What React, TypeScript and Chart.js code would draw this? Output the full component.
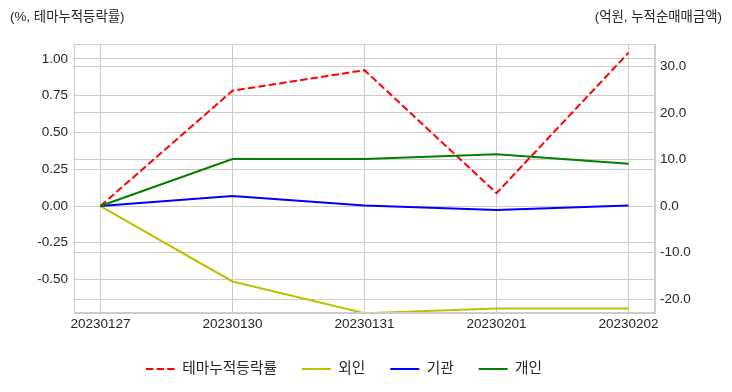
import React, { useEffect, useRef } from "react";
import { Chart, registerables } from "chart.js";

Chart.register(...registerables);

// ---- data ----
const dates = ["20230127", "20230130", "20230131", "20230201", "20230202"];
const themeReturn = [0, 0.784, 0.924, 0.088, 1.043]; // %, left axis
const foreign = [0, -16.2, -23.0, -22.0, -22.0]; // 억원, right axis
const institution = [0, 2.15, 0.1, -0.86, 0.1];
const individual = [0, 10.1, 10.1, 11.1, 9.1];
const leftTicks = [-0.5, -0.25, 0, 0.25, 0.5, 0.75, 1.0];
const rightTicks = [-20, -10, 0, 10, 20, 30];
const leftTitle = "(%, 테마누적등락률)";
const rightTitle = "(억원, 누적순매매금액)";

const FONT = "'Liberation Sans', 'Noto Sans CJK KR', Arial, sans-serif";
const TEXT = "#262626";
const GRID = "#cccccc";

const toPts = (arr: number[]) => arr.map((y, i) => ({ x: i, y }));

const framePlugin = {
  id: "frame",
  afterDraw(chart: any) {
    const { ctx, chartArea } = chart;
    ctx.save();
    ctx.strokeStyle = GRID;
    ctx.lineWidth = 1;
    ctx.strokeRect(
      Math.round(chartArea.left) + 0.5,
      Math.round(chartArea.top) + 0.5,
      Math.round(chartArea.right - chartArea.left) - 1,
      Math.round(chartArea.bottom - chartArea.top) - 1
    );
    ctx.restore();
  },
};

// the reference legend sits a little left of the canvas centre
const legendShiftPlugin = {
  id: "legendShift",
  afterLayout(chart: any) {
    const lg = chart.legend;
    if (lg) {
      lg.left -= 22;
      lg.right -= 22;
    }
  },
};

export default function App() {
  const ref = useRef<HTMLCanvasElement | null>(null);

  useEffect(() => {
    if (!ref.current) return;
    const common = {
      borderWidth: 2,
      pointRadius: 0,
      pointHoverRadius: 0,
      tension: 0,
      fill: false,
    };
    const chart = new Chart(ref.current, {
      type: "line",
      data: {
        datasets: [
          {
            ...common,
            label: "테마누적등락률",
            data: toPts(themeReturn),
            yAxisID: "y",
            borderColor: "#ff0000",
            backgroundColor: "#ff0000",
            borderDash: [7.4, 3.2],
            order: 4,
          },
          {
            ...common,
            label: "외인",
            data: toPts(foreign),
            yAxisID: "y2",
            borderColor: "#bfbf00",
            backgroundColor: "#bfbf00",
            order: 3,
          },
          {
            ...common,
            label: "기관",
            data: toPts(institution),
            yAxisID: "y2",
            borderColor: "#0000ff",
            backgroundColor: "#0000ff",
            order: 2,
          },
          {
            ...common,
            label: "개인",
            data: toPts(individual),
            yAxisID: "y2",
            borderColor: "#008000",
            backgroundColor: "#008000",
            order: 1,
          },
        ],
      },
      options: {
        animation: false,
        responsive: true,
        maintainAspectRatio: false,
        layout: { padding: { top: 44, left: 0, right: 0, bottom: 5.6 } },
        plugins: {
          legend: {
            position: "bottom",
            labels: {
              usePointStyle: true,
              pointStyle: "line",
              pointStyleWidth: 29,
              padding: 25,
              color: TEXT,
              font: { family: FONT, size: 14.7 },
              sort: (a: any, b: any) => a.datasetIndex - b.datasetIndex,
              generateLabels: (ch: any) => {
                const items = (Chart as any).defaults.plugins.legend.labels.generateLabels(ch);
                return items.map((it: any) => {
                  const ds = ch.data.datasets[it.datasetIndex];
                  return {
                    ...it,
                    strokeStyle: ds.borderColor,
                    fillStyle: ds.borderColor,
                    lineWidth: 2,
                    lineDash: ds.borderDash || [],
                    lineCap: "butt",
                  };
                });
              },
            },
          },
          tooltip: { enabled: false },
        },
        scales: {
          x: {
            type: "linear",
            min: -0.2,
            max: 4.2,
            afterBuildTicks: (axis: any) => {
              axis.ticks = dates.map((_, i) => ({ value: i }));
            },
            afterFit: (axis: any) => {
              axis.height = 23.35;
            },
            ticks: {
              callback: (v: any) => dates[Math.round(Number(v))] ?? "",
              color: TEXT,
              font: { family: FONT, size: 13.5 },
              padding: 3,
              maxRotation: 0,
              autoSkip: false,
            },
            grid: { color: GRID, drawTicks: false },
            border: { color: GRID },
          },
          y: {
            type: "linear",
            position: "left",
            min: -0.73,
            max: 1.102,
            afterBuildTicks: (axis: any) => {
              axis.ticks = leftTicks.map((v) => ({ value: v }));
            },
            afterFit: (axis: any) => {
              axis.width = 74;
            },
            ticks: {
              callback: (v: any) => Number(v).toFixed(2),
              color: TEXT,
              font: { family: FONT, size: 13.5 },
              padding: 6,
            },
            grid: { color: GRID, drawTicks: false },
            border: { color: GRID },
          },
          y2: {
            type: "linear",
            position: "right",
            min: -23.04,
            max: 34.79,
            afterBuildTicks: (axis: any) => {
              axis.ticks = rightTicks.map((v) => ({ value: v }));
            },
            afterFit: (axis: any) => {
              axis.width = 77;
            },
            ticks: {
              callback: (v: any) => Number(v).toFixed(1),
              color: TEXT,
              font: { family: FONT, size: 13.5 },
              padding: 5,
            },
            grid: { color: GRID, drawTicks: false, drawOnChartArea: true },
            border: { color: GRID },
          },
        },
      } as any,
      plugins: [framePlugin, legendShiftPlugin],
    });
    return () => chart.destroy();
  }, []);

  const titleStyle: React.CSSProperties = {
    position: "absolute",
    top: 8,
    fontFamily: FONT,
    fontSize: 13.4,
    lineHeight: "18px",
    color: TEXT,
    whiteSpace: "nowrap",
    zIndex: 2,
  };

  return (
    <div
      style={{
        position: "absolute",
        left: 0,
        top: 0,
        width: 732,
        height: 392,
        background: "#ffffff",
      }}
    >
      <div style={{ position: "absolute", left: 0, top: 0, width: 732, height: 392 }}>
        <canvas ref={ref} />
      </div>
      <div style={{ ...titleStyle, left: 10 }}>{leftTitle}</div>
      <div style={{ ...titleStyle, right: 10 }}>{rightTitle}</div>
    </div>
  );
}
